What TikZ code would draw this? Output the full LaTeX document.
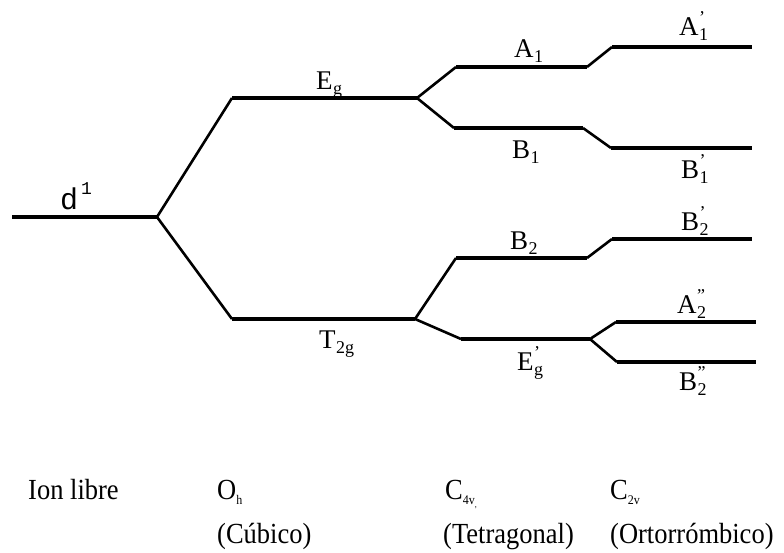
\documentclass[tikz,border=0pt]{standalone}
\usepackage{fontspec}
\setmainfont{Liberation Serif}
\newfontfamily\monof{Liberation Mono}
\newcommand{\lvl}[3]{#1\kern0.5pt\rlap{\raisebox{0.42em}{\fontsize{18}{18}\selectfont #2}}{\raisebox{-0.2em}{\fontsize{18}{18}\selectfont #3}}}
\newcommand{\grp}[2]{#1\raisebox{-0.18em}{\fontsize{12}{12}\selectfont #2}}
\newcommand{\tall}[1]{\scalebox{1}[1.1]{#1}}
\begin{document}
\begin{tikzpicture}[x=1pt,y=-1pt,
  lev/.style={line width=3.3pt,line cap=butt},
  spl/.style={line width=2.6pt,line join=round},
  lab/.style={inner sep=0pt,anchor=base west,font=\fontsize{27}{27}\selectfont},
  bot/.style={inner sep=0pt,anchor=base west,font=\fontsize{26.5}{26.5}\selectfont}]
\useasboundingbox (0,0) rectangle (784,552);
% level end points
\coordinate (d1a) at (12,217);   \coordinate (d1b) at (157,217);
\coordinate (ega) at (232,98);   \coordinate (egb) at (417,98);
\coordinate (t2a) at (232,319);  \coordinate (t2b) at (415,319);
\coordinate (a1a) at (456,67);   \coordinate (a1b) at (587,67);
\coordinate (b1a) at (454,128);  \coordinate (b1b) at (583,128);
\coordinate (b2a) at (456,258);  \coordinate (b2b) at (587,258);
\coordinate (e2a) at (461,339);  \coordinate (e2b) at (590,339);
\coordinate (a1pa) at (612,47);  \coordinate (a1pb) at (752,47);
\coordinate (b1pa) at (611,148); \coordinate (b1pb) at (752,148);
\coordinate (b2pa) at (612,239); \coordinate (b2pb) at (752,239);
\coordinate (a2pa) at (616,322); \coordinate (a2pb) at (756,322);
\coordinate (b2ppa) at (617,362);\coordinate (b2ppb) at (756,362);
% horizontal levels
\foreach \p in {d1,eg,t2,a1,b1,b2,e2,a1p,b1p,b2p,a2p,b2pp}
  \draw[lev] (\p a) -- (\p b);
% splittings
\draw[spl] (ega) -- (d1b) -- (t2a);
\draw[spl] (a1a) -- (egb) -- (b1a);
\draw[spl] (b2a) -- (t2b) -- (e2a);
\draw[spl] (a1b) -- (a1pa);
\draw[spl] (b1b) -- (b1pa);
\draw[spl] (b2b) -- (b2pa);
\draw[spl] (a2pa) -- (e2b) -- (b2ppa);
% labels
\node[lab,font=\fontsize{30}{30}\monof] (ld) at (60,209) {d\hspace{3pt}\raisebox{0.5em}{\fontsize{18}{18}\selectfont 1}};
\node[lab] (leg) at (316,89) {\lvl{E}{}{g}};
\node[lab] (lt2) at (319,348) {\lvl{T}{}{2g}};
\node[lab] (la1) at (514,57) {\lvl{A}{}{1}};
\node[lab] (lb1) at (512,158) {\lvl{B}{}{1}};
\node[lab] (lb2) at (510,249) {\lvl{B}{}{2}};
\node[lab] (le2) at (517,370) {\lvl{E}{'}{g}};
\node[lab] (la1p) at (679,35) {\lvl{A}{'}{1}};
\node[lab] (lb1p) at (681,178) {\lvl{B}{'}{1}};
\node[lab] (lb2p) at (681,230) {\lvl{B}{'}{2}};
\node[lab] (la2p) at (677,313) {\lvl{A}{''}{2}};
\node[lab] (lb2pp) at (679,390) {\lvl{B}{''}{2}};
% bottom captions
\node[bot] (ion) at (28,499) {\tall{Ion libre}};
\node[bot] (oh) at (217,499) {\tall{\grp{O}{h}}};
\node[bot] (c4v) at (445,499) {\tall{\grp{C}{4v\raisebox{-0.25em}{\fontsize{8}{8}\selectfont ,}}}};
\node[bot] (c2v) at (610,499) {\tall{\grp{C}{2v}}};
\node[bot] (cub) at (217,543) {\tall{(Cúbico)}};
\node[bot] (tet) at (443,543) {\tall{(Tetragonal)}};
\node[bot] (ort) at (610,543) {\tall{(Ortorrómbico)}};
\end{tikzpicture}
\end{document}
